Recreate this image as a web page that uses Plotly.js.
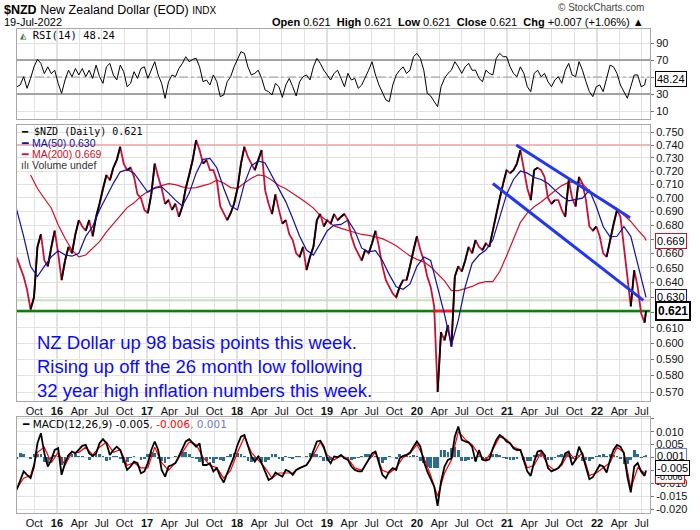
<!DOCTYPE html>
<html><head><meta charset="utf-8">
<script src="https://cdn.plot.ly/plotly-3.0.1.min.js"></script>
<style>html,body{margin:0;padding:0;background:#fff}#chart{width:700px;height:530px}</style>
</head><body><div id="chart"></div>
<script>
// ---------- data ----------
const startDate = '2015-07-22';
const lastDate = '2022-07-19';
const stepDays = 14;   // price / RSI / MACD readings
const maStepDays = 28; // moving average & signal readings

const closeVals = [0.657,0.651,0.644,0.635,0.622,0.630,0.6645,0.6735,0.655,0.651,0.6645,0.676,0.660,0.6416,0.655,0.6645,0.660,0.6735,0.6836,0.679,
0.676,0.6836,0.672,0.686,0.6955,0.707,0.717,0.713,0.7225,0.7284,0.7387,0.7257,0.7207,0.7225,0.7156,0.7024,0.6997,0.691,0.6886,0.7024,
0.7257,0.7156,0.707,0.6955,0.6982,0.691,0.6955,0.686,0.6935,0.707,0.717,0.7284,0.7439,0.7361,0.7257,0.7284,0.7207,0.7207,0.713,0.6935,
0.6886,0.6836,0.6886,0.6955,0.707,0.7257,0.7387,0.7308,0.7257,0.7207,0.7284,0.7361,0.7056,0.6955,0.688,0.7024,0.691,0.681,0.6836,0.6735,
0.6693,0.660,0.6575,0.6645,0.6484,0.6575,0.6645,0.6836,0.688,0.679,0.6836,0.681,0.688,0.6836,0.686,0.688,0.6836,0.672,0.6645,0.660,
0.655,0.6623,0.660,0.667,0.676,0.6645,0.651,0.6416,0.637,0.6325,0.630,0.637,0.6416,0.6416,0.651,0.6623,0.672,0.6623,0.655,0.644,
0.637,0.624,0.570,0.6073,0.602,0.6117,0.598,0.644,0.651,0.6475,0.655,0.6645,0.660,0.6693,0.6645,0.6623,0.667,0.6645,0.676,0.688,
0.6997,0.7105,0.7207,0.7184,0.7207,0.7257,0.7361,0.7207,0.707,0.6982,0.7207,0.7225,0.7207,0.7156,0.6997,0.6955,0.6982,0.6982,0.691,0.686,
0.713,0.6997,0.6935,0.7156,0.7105,0.6982,0.679,0.676,0.679,0.672,0.660,0.6575,0.6693,0.681,0.691,0.686,0.6645,0.644,0.624,0.6484,
0.637,0.6195,0.6133];
const closeLast = 0.621;

const ma50Vals = [0.691,0.672,0.651,0.644,0.651,0.6575,0.6618,0.6588,0.658,0.660,0.672,0.679,0.691,0.701,0.7107,0.7194,0.7211,0.7184,0.7107,0.704,
0.707,0.708,0.7034,0.6982,0.6939,0.7034,0.7184,0.7289,0.7296,0.7225,0.707,0.694,0.691,0.7107,0.724,0.7277,0.7262,0.7166,0.707,0.6969,
0.6848,0.672,0.6623,0.6588,0.667,0.676,0.680,0.6805,0.6836,0.676,0.6636,0.661,0.6618,0.655,0.6453,0.637,0.6354,0.639,0.651,0.6575,
0.655,0.637,0.6188,0.5989,0.615,0.637,0.6531,0.6588,0.6623,0.6693,0.686,0.7024,0.7136,0.72,0.7184,0.7151,0.7136,0.7105,0.7056,0.701,
0.6977,0.6985,0.6997,0.7056,0.6935,0.679,0.6716,0.672,0.679,0.672,0.6531,0.6338];
const ma50Last = 0.630;

const ma200Vals = [null,null,0.717,0.7068,0.6994,0.6924,0.6803,0.6706,0.6623,0.6575,0.6588,0.6636,0.6682,0.6752,0.681,0.6868,0.6927,0.6962,0.701,0.7046,
0.7075,0.709,0.7104,0.7097,0.708,0.707,0.7075,0.709,0.7104,0.7131,0.711,0.7075,0.707,0.711,0.7146,0.717,0.7162,0.713,0.709,0.7066,
0.7034,0.6997,0.6962,0.6923,0.6868,0.683,0.6794,0.6776,0.6762,0.6748,0.6733,0.6726,0.6717,0.6703,0.668,0.6653,0.6617,0.6582,0.6558,0.6541,
0.6507,0.6456,0.6411,0.6345,0.6345,0.6358,0.6373,0.6395,0.6406,0.6406,0.6474,0.6583,0.6706,0.682,0.6887,0.6933,0.6968,0.7011,0.7051,0.709,
0.7114,0.7118,0.7104,0.7051,0.7011,0.6985,0.6954,0.6918,0.6872,0.6826,0.6766,0.6712];
const ma200Last = 0.669;

const rsiVals = [38.6,40.6,50.4,36.7,48.4,62,70.8,66,54,62,54,58,42.6,30.8,46.5,58,50.4,60,52.4,60,
50.4,58,48.4,64,50.4,42.6,62,66,52.4,46.5,64,56.3,38.6,42.6,56.3,48.4,60,62,48.4,58,
68,52.4,42.6,24.9,44.5,52.4,50.4,60,66,73.9,68,70.8,72,62,44.5,46.5,40.6,52.4,44.5,26.9,
28.8,44.5,50.4,62,70,79.8,77.8,62,52.4,54.3,58,48.4,34.7,32.8,28.8,42.6,38.6,26,40.6,48.4,
38.6,27.7,44.5,50.4,52.4,46.5,62,72,66,58,52.4,46.5,54.3,58,48.4,38.6,54.3,46.5,48.4,36.7,
40.6,48.4,58,68,52.4,40.6,30.8,23,21,40.6,52.4,58,62,54.3,58,73.9,77.8,72,58,30.8,
27.7,21,15,38.6,48.4,54.3,58,68,62,54.3,62,66,58,58,48.4,44.5,58,54.3,52.4,72,
77.8,73.9,73.9,62,54.3,50.4,62,54.3,38.6,32.8,54.3,58,50.4,54.3,44.5,38.6,46.5,50.4,42.6,58,
66,52.4,50.4,68,58,44.5,32.8,26.9,38.6,40.6,32.8,48.4,64,62,54.3,40.6,32.8,25,38.6,52.4,
52.4,38.6,40.6];
const rsiLast = 48.24;

const macdVals = [-0.0125,-0.0087,-0.0054,-0.0067,-0.0080,-0.0035,0.0055,0.0094,0.0016,-0.0035,-0.0009,0.0029,0.0036,-0.0067,-0.0022,0.001,0.0023,0.0016,0.0029,0.0045,
0.0049,0.0016,0.0006,0.0016,0.0055,0.0071,0.0055,0.001,0.0029,0.0042,0.0029,-0.0009,-0.0048,-0.0035,-0.0016,-0.0022,-0.0061,-0.0054,-0.0022,0.0029,
0.0062,0.0029,-0.0048,-0.0074,-0.0035,-0.0029,-0.0022,0.0004,0.0036,0.0062,0.0071,0.0055,0.0042,0.0055,-0.0029,-0.0029,-0.0022,-0.0054,-0.0041,-0.0074,
-0.0097,-0.0061,-0.0029,0.0004,0.0049,0.0081,0.0087,0.0042,0.0004,-0.0016,0.0004,-0.0022,-0.0054,-0.0087,-0.0080,-0.0058,-0.0067,-0.0074,-0.0048,-0.0054,
-0.0067,-0.0048,-0.0041,-0.0035,-0.0029,-0.0009,0.0029,0.0062,0.0065,0.0042,-0.0003,-0.0022,0.0004,0.0001,0.001,-0.0003,-0.0009,-0.0035,-0.0048,-0.0054,
-0.0054,-0.0029,-0.0003,0.0016,0.0023,-0.0022,-0.0067,-0.0080,-0.0054,-0.0041,-0.0048,-0.0003,0.0006,0.001,0.0019,0.0042,0.0062,0.0042,-0.0016,-0.0054,
-0.0080,-0.0112,-0.0187,-0.0093,-0.0035,-0.0009,-0.0003,0.0081,0.012,0.0068,0.0062,0.0058,0.0042,-0.0016,0.0029,-0.0009,-0.0012,-0.0007,0.0036,0.0068,
0.0087,0.0078,0.0062,0.0055,0.0036,0.0029,0.0029,-0.0016,-0.0054,-0.0071,-0.0016,0.0023,0.0027,0.001,-0.0041,-0.0054,-0.0048,-0.0041,-0.0022,0.0016,
0.0023,-0.0029,-0.0009,0.0042,0.001,-0.0035,-0.0084,-0.0076,-0.0054,-0.0029,-0.0035,-0.0058,-0.0009,0.0029,0.0049,0.0042,0.0016,-0.0074,-0.0135,-0.0035,
-0.0022,-0.0054,-0.0071];
const macdLast = -0.005;

const signalVals = [-0.012,-0.008,-0.007,0.002,0.004,-0.002,0.002,-0.003,0.002,0.002,0.004,0.001,0.004,0.006,0.002,0.003,-0.003,-0.002,-0.004,-0.004,
0.004,-0.002,-0.005,-0.002,0.002,0.006,0.005,0.000,-0.003,-0.004,-0.008,-0.005,0.002,0.008,0.002,-0.001,-0.004,-0.008,-0.006,-0.006,
-0.006,-0.004,-0.003,0.001,0.006,0.001,-0.001,0.0008,-0.0005,-0.004,-0.005,-0.001,0.002,-0.005,-0.006,-0.004,0.000,0.0015,0.005,0.000,
-0.007,-0.015,-0.006,-0.001,0.010,0.007,0.005,0.001,-0.001,0.003,0.008,0.007,0.004,0.003,-0.004,-0.003,0.002,-0.003,-0.005,-0.003,
0.002,-0.001,0.002,-0.007,-0.006,-0.004,-0.002,0.004,0.002,-0.012,-0.004,-0.006];
const signalLast = -0.006;

const histVals = [-0.0005,0.0019,0.0012,0.0003,-0.0004,0.0015,0.0015,0.0012,-0.0018,-0.0020,-0.0006,0.0008,0.0005,-0.0030,-0.0025,0.0008,0.0015,0.0012,0.0004,0.0006,
0.0003,-0.0008,0.0012,0.0015,0.0012,0.0006,-0.0015,-0.0010,0.0004,0.0005,-0.0004,-0.0020,-0.0018,-0.0003,0.0006,0.0003,-0.0010,-0.0004,0.0015,0.0020,
0.0018,-0.0005,-0.0015,-0.0020,-0.0005,0.0003,0.0004,0.0010,0.0020,0.0022,0.0015,-0.0002,-0.0004,-0.0018,-0.0020,-0.0012,-0.0006,-0.0020,-0.0004,-0.0010,
-0.0012,0.0005,0.0012,0.0018,0.0018,0.0015,0.0005,-0.0012,-0.0018,-0.0010,0.0004,-0.0018,-0.0016,-0.0010,0.0015,0.0012,-0.0004,-0.0015,0.0006,-0.0003,
-0.0006,0.0005,0.0004,0.0003,0.0005,0.0018,0.0018,0.0015,0.0004,-0.0015,-0.0015,-0.0008,0.0004,0.0003,0.0005,-0.0004,-0.0005,-0.0008,-0.0006,-0.0003,
0.0004,0.0015,0.0015,0.0008,0.0004,-0.0012,-0.0020,-0.0010,0.0004,0.0002,-0.0004,0.0012,0.0005,0.0004,0.0005,0.0008,0.0004,-0.0015,-0.0020,-0.0035,
-0.0040,-0.0042,-0.0040,0.0030,0.0030,0.0020,0.0035,0.0042,0.0030,-0.0015,-0.0012,-0.0010,-0.0006,-0.0012,0.0004,-0.0010,-0.0004,0.0004,0.0012,0.0012,
0.0010,-0.0003,-0.0005,-0.0010,-0.0008,-0.0006,0.0002,-0.0008,-0.0012,-0.0015,0.0008,0.0015,0.0012,0.0008,-0.0010,-0.0008,-0.0003,0.0010,0.0012,0.0012,
0.0010,-0.0006,0.0004,0.0008,-0.0012,-0.0010,-0.0015,-0.0006,0.0005,0.0008,0.0012,0.0006,0.0012,0.0010,0.0006,-0.0004,-0.0025,-0.0025,-0.0010,0.0030,
0.0012,-0.0003,0.0005];
const histLast = 0.001;

// drawn annotation lines on the price panel
const upperTrendDates = ['2021-02-07','2022-05-15'];
const upperTrendVals = [0.740, 0.6853];
const lowerTrendDates = ['2020-11-04','2022-07-08'];
const lowerTrendVals = [0.7106, 0.628];
const levelVals = {pink:0.740, lightGreen:0.628, green:0.621};
const redSegDates = ['2020-03-07','2020-05-27'];
const pinkSegDates = ['2022-04-11','2022-08-04'];

const xRange = ['2015-07-23','2022-08-04'];
const monthNames = {1:'Jan',4:'Apr',7:'Jul',10:'Oct'};
const noteLines = ['NZ Dollar up 98 basis points this week.','Rising up off the 26 month low following','32 year high inflation numbers this week.'];
const hiddenPriceTicks = ['0.620','0.630','0.670'];   // covered by value boxes in the reference
const macdTickText = ['-0.020','-0.015','-0.010','','','0.005','0.010',''];

// ---------- helpers ----------
function dateAt(n){const d=new Date(startDate+'T00:00:00Z');d.setUTCDate(d.getUTCDate()+n);return d.toISOString().slice(0,10);}
function ser(vals,step,last){const x=vals.map((_,i)=>dateAt(i*step));const y=vals.slice();x.push(lastDate);y.push(last);return {x,y};}

const px = ser(closeVals,stepDays,closeLast);
const m50 = ser(ma50Vals,maStepDays,ma50Last);
const m200 = ser(ma200Vals,maStepDays,ma200Last);
const rs = ser(rsiVals,stepDays,rsiLast);
const md = ser(macdVals,stepDays,macdLast);
const sg = ser(signalVals,maStepDays,signalLast);
const hs = ser(histVals,stepDays,histLast);

// up segments in black
const upX=[],upY=[];
for(let i=0;i<px.y.length-1;i++){ if(px.y[i+1]>px.y[i]){upX.push(px.x[i],px.x[i+1],null);upY.push(px.y[i],px.y[i+1],null);} }

// ticks
const tickVals=[],tickText=[],yearDates=[];
for(let y=2015;y<=2022;y++){for(const m of [1,4,7,10]){const d=`${y}-${String(m).padStart(2,'0')}-01`;if(d<xRange[0]||d>xRange[1])continue;tickVals.push(d);tickText.push(m===1?'<b>'+String(y).slice(2)+'</b>':monthNames[m]);if(m===1)yearDates.push(d);}}
const priceTicks=[];for(let k=57;k<=75;k++)priceTicks.push(k/100);
const priceTickText=priceTicks.map(v=>{const s=v.toFixed(3);return hiddenPriceTicks.includes(s)?'':s;});

const F='Arial, "Liberation Sans", sans-serif';
const lineTr=(x,y,color,width,xa,ya,extra)=>Object.assign({type:'scatter',mode:'lines',x,y,xaxis:xa,yaxis:ya,line:{color,width},hoverinfo:'skip',showlegend:false},extra||{});

const traces=[];
// RSI panel
traces.push(lineTr(xRange,[70,70],'#888',1.3,'x','y'));
traces.push(lineTr(xRange,[30,30],'#888',1.3,'x','y'));
traces.push(lineTr(xRange,[50,50],'#999',1,'x','y',{line:{color:'#999',width:1,dash:'dashdot'}}));
traces.push(lineTr(rs.x,rs.y,'#000',1,'x','y'));
// Price panel
traces.push(lineTr(xRange,[levelVals.pink,levelVals.pink],'#f2b8b8',2,'x2','y2'));
traces.push(lineTr(xRange,[levelVals.lightGreen,levelVals.lightGreen],'#c4e3bd',2,'x2','y2'));
traces.push(lineTr(pinkSegDates,[levelVals.lightGreen,levelVals.lightGreen],'#f2c4c4',2,'x2','y2'));
traces.push(lineTr(xRange,[levelVals.green,levelVals.green],'#0a800a',2.5,'x2','y2'));
traces.push(lineTr(redSegDates,[levelVals.green,levelVals.green],'#ff1a1a',2.5,'x2','y2'));
traces.push(lineTr(m200.x,m200.y,'#d0102a',1.2,'x2','y2'));
traces.push(lineTr(px.x,px.y,'#c8103a',1.8,'x2','y2'));
traces.push(lineTr(upX,upY,'#000',1.8,'x2','y2'));
traces.push(lineTr(m50.x,m50.y,'#10109a',1.2,'x2','y2'));
traces.push(lineTr(upperTrendDates,upperTrendVals,'#2238f0',3,'x2','y2'));
traces.push(lineTr(lowerTrendDates,lowerTrendVals,'#2238f0',3,'x2','y2'));
// MACD panel
traces.push({type:'bar',x:hs.x,y:hs.y,xaxis:'x3',yaxis:'y3',marker:{color:'#2a6d8f',line:{width:0}},width:stepDays*86400000*0.8,hoverinfo:'skip',showlegend:false});
traces.push(lineTr(sg.x,sg.y,'#ff0000',1.2,'x3','y3'));
traces.push(lineTr(md.x,md.y,'#000',1.8,'x3','y3'));

// year grid lines
const shapes=[];
for(const d of yearDates){for(const ya of ['y','y2','y3']){shapes.push({type:'line',xref:ya==='y'?'x':(ya==='y2'?'x2':'x3'),yref:ya+' domain',x0:d,x1:d,y0:0,y1:1,line:{color:'#b8b8b8',width:1},layer:'below'});}}

const L=17,R=650,T=29,B=513;
const pxX=v=>(v-L)/(R-L), pxY=v=>(B-v)/(B-T);

const ann=[];
const A=(o)=>ann.push(Object.assign({showarrow:false,xref:'paper',yref:'paper',xanchor:'left',yanchor:'middle',font:{family:F,size:11,color:'#000'}},o));
A({x:pxX(2),y:pxY(10),text:'<b>$NZD</b> New Zealand Dollar (EOD) <span style="font-size:10px">INDX</span>',font:{family:F,size:12.5,color:'#000'}});
A({x:pxX(2),y:pxY(22),text:'19-Jul-2022',font:{family:F,size:11,color:'#000'}});
A({x:pxX(646),y:pxY(8),xanchor:'right',text:'© StockCharts.com',font:{family:F,size:10,color:'#444'}});
A({x:pxX(646),y:pxY(22),xanchor:'right',text:'<b>Open</b> 0.621  <b>High</b> 0.621  <b>Low</b> 0.621  <b>Close</b> 0.621  <b>Chg</b> +0.007 (+1.06%) ▲',font:{family:F,size:11,color:'#000'}});
A({x:pxX(18),y:pxY(35),text:'<span style="color:#3a7a3a">◭</span> RSI(14) 48.24',font:{family:'"DejaVu Sans Mono", monospace',size:10.5,color:'#000'}});
A({x:pxX(19),y:pxY(131),text:'<b>━</b> $NZD (Daily) 0.621',font:{family:'"DejaVu Sans Mono", monospace',size:10,color:'#000'}});
A({x:pxX(19),y:pxY(143),text:'━ MA(50) 0.630',font:{family:F,size:10.5,color:'#10109a'}});
A({x:pxX(19),y:pxY(154),text:'━ MA(200) 0.669',font:{family:F,size:10.5,color:'#d0102a'}});
A({x:pxX(19),y:pxY(165),text:'ılı Volume undef',font:{family:F,size:10.5,color:'#333'}});
A({x:pxX(20),y:pxY(424),text:'<b>━</b> MACD(12,26,9) -0.005<span style="color:#ff0000">, -0.006</span><span style="color:#6a7ad0">, 0.001</span>',font:{family:'"DejaVu Sans", sans-serif',size:10.5,color:'#000'}});
A({x:pxX(35),y:pxY(366),text:noteLines.join('<br>'),align:'left',font:{family:F,size:18.5,color:'#0a0aff'}});
// value boxes
const box=(y,yref,text,color,bw,bold,shift,size)=>ann.push({xref:'paper',x:1,xanchor:'left',xshift:5,yref,y,yanchor:'middle',yshift:shift||0,showarrow:false,text:bold?'<b>'+text+'</b>':text,bgcolor:'#fff',bordercolor:color,borderwidth:bw,borderpad:1,font:{family:F,size:size||(bold?12:11),color:'#000'}});
box(rsiLast,'y','48.24','#000',1,false);
box(Math.log10(ma200Last),'y2','0.669','#d0102a',1,false);
box(Math.log10(ma50Last),'y2','0.630','#10109a',1,false);
box(Math.log10(closeLast),'y2','0.621','#000',2,true);
box(signalLast,'y3','-0.006','#ff0000',1,false,-4,9);
box(histLast,'y3','0.001','#6a7ad0',1,false,-1);
box(macdLast,'y3','-0.005','#000',1,false,2);

const xBase={type:'date',range:xRange,tickvals:tickVals,ticktext:tickText,showgrid:true,gridcolor:'#e2e2e2',showline:true,mirror:true,linecolor:'#a8a8a8',zeroline:false,ticks:'',tickfont:{family:F,size:11,color:'#111'}};
const yBase={side:'right',showgrid:true,gridcolor:'#e2e2e2',showline:true,mirror:true,linecolor:'#a8a8a8',zeroline:false,ticks:'outside',ticklen:3,tickcolor:'#777',tickfont:{family:F,size:11,color:'#111'}};

const layout={
  width:700,height:530,margin:{l:L,r:700-R,t:T,b:530-B},
  paper_bgcolor:'#fff',plot_bgcolor:'#fff',showlegend:false,bargap:0,
  xaxis:Object.assign({},xBase,{anchor:'y',showticklabels:false}),
  xaxis2:Object.assign({},xBase,{anchor:'y2',matches:'x'}),
  xaxis3:Object.assign({},xBase,{anchor:'y3',matches:'x'}),
  yaxis:Object.assign({},yBase,{domain:[pxY(119),1],range:[0.6,106.5],tickvals:[10,30,50,70,90],ticktext:['10','30','','70','90']}),
  yaxis2:Object.assign({},yBase,{domain:[pxY(401),pxY(125)],type:'log',range:[Math.log10(0.5646),Math.log10(0.7559)],tickvals:priceTicks,ticktext:priceTickText}),
  yaxis3:Object.assign({},yBase,{domain:[0,pxY(416.7)],range:[-0.0215,0.0158],tickvals:[-0.02,-0.015,-0.01,-0.005,0,0.005,0.01,0.015],ticktext:macdTickText}),
  shapes,annotations:ann
};
Plotly.newPlot('chart',traces,layout,{staticPlot:true,displayModeBar:false});
</script></body></html>
